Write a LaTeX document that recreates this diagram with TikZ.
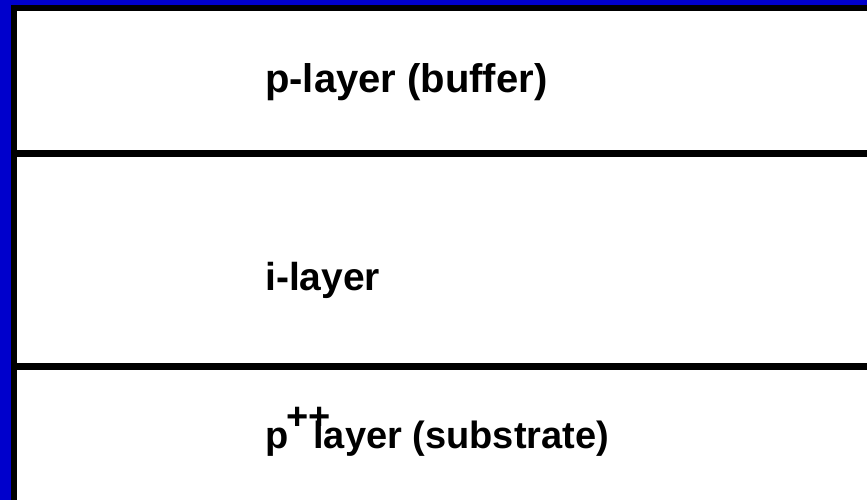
\documentclass[tikz,border=0pt]{standalone}
\usepackage{fontspec}
\setmainfont{Liberation Sans}
\definecolor{slideblue}{RGB}{0,0,204}
\begin{document}
\begin{tikzpicture}[x=1pt,y=-1pt,
  txt/.style={anchor=base west,inner sep=0pt,font=\fontsize{39}{45}\selectfont\bfseries},
  band/.style={fill=slideblue},
  rulebar/.style={fill=black}]
\useasboundingbox (0,0) rectangle (867,500);
\fill[white] (0,0) rectangle (867,500);
\fill[band] (0,0) rectangle (11,500);
\fill[band] (0,0) rectangle (867,5);
\fill[rulebar] (11,5) rectangle (17,500);
\fill[rulebar] (11,5) rectangle (867,11);
\fill[rulebar] (17,150) rectangle (867,157);
\fill[rulebar] (17,363) rectangle (867,370);
\node[txt,font=\fontsize{40}{46}\selectfont\bfseries] (buffer) at (265,93) {p-layer (buffer)};
\node[txt] (ilayer) at (265,290) {i-layer};
\node[txt,font=\fontsize{38}{44}\selectfont\bfseries] (substrate) at (265,448) {p\rlap{\hspace{-2.4pt}\raisebox{19pt}{++}}\hspace{25pt}layer (substrate)};
\end{tikzpicture}
\end{document}
